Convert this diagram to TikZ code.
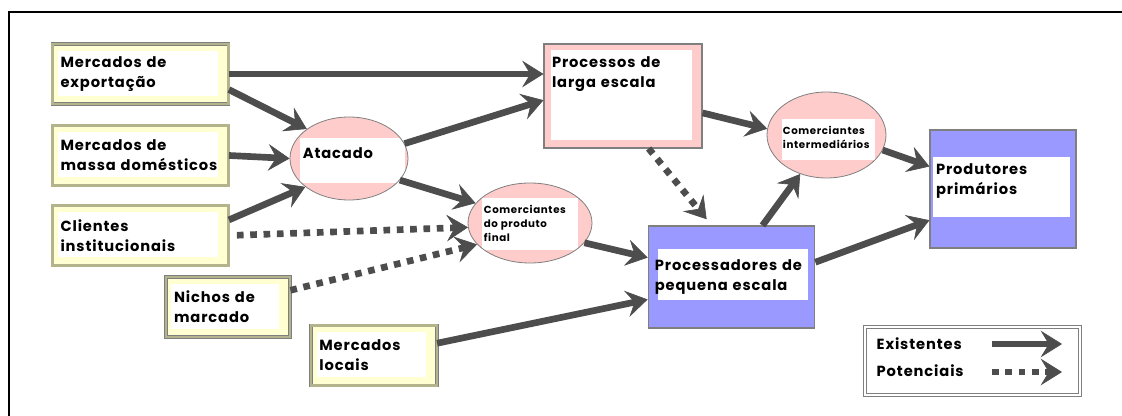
\documentclass[tikz,border=0pt]{standalone}
\usepackage{fontspec}
\setmainfont{Poppins}[LetterSpace=6]
\usetikzlibrary{arrows.meta,shapes.geometric}
\definecolor{flowgray}{HTML}{4D4D4D}
\definecolor{mktyellow}{HTML}{FFFFD2}
\definecolor{mktedge}{HTML}{B4B48C}
\definecolor{pinkfill}{HTML}{FFCCCC}
\definecolor{bluefill}{HTML}{9999FF}
\definecolor{edgegray}{HTML}{7F7F7F}

\tikzset{
  whitearea/.style n args={4}{path picture={\fill[white] ([xshift=#1,yshift=#4]path picture bounding box.south west) rectangle ([xshift=-#2,yshift=-#3]path picture bounding box.north east);}},
  lbl/.style={font=\fontsize{11}{15}\selectfont\bfseries, align=left},
  smalllbl/.style={font=\fontsize{7.7}{10.5}\selectfont\bfseries, align=left, inner sep=0pt},
  market/.style={rectangle, draw=edgegray, line width=0.6pt, double=mktedge, double distance=1.6pt,
    fill=mktyellow, whitearea={4pt}{8pt}{5pt}{6pt}, lbl, inner xsep=6pt, text width=#1, minimum height=45pt},
  proc/.style={rectangle, draw=edgegray, line width=0.8pt, lbl, inner xsep=6pt},
  trader/.style={ellipse, draw=edgegray, line width=0.6pt, fill=pinkfill, inner sep=0pt},
  legendbox/.style={rectangle, draw=edgegray, line width=0.6pt, double=white, double distance=1.6pt, fill=white},
  flow/.style={draw=flowgray, line width=5pt, -{Stealth[length=16pt, width=20pt, inset=6pt, line width=0.5pt]}},
  maybe/.style={flow, dash pattern=on 5pt off 5pt}
}

\begin{document}
\begin{tikzpicture}[x=0.75pt, y=-0.75pt]
  \useasboundingbox (0,0) rectangle (1122,416);

  % Frame
  \draw[line width=1.5pt] (9,416) -- (9,12) -- (1122,12);

  % Markets on the left
  \node[market=120pt] (exp) at (140.5,74) {Mercados de\\exportação};
  \node[market=120pt] (mass) at (140.5,155.5) {Mercados de\\massa domésticos};
  \node[market=120pt] (cli) at (140.5,235.5) {Clientes\\institucionais};
  \node[market=81pt] (nich) at (228,307) {Nichos de\\marcado};
  \node[market=82pt] (loc) at (374,355.5) {Mercados\\locais};

  % Traders
  \node[trader, minimum width=88.5pt, minimum height=62.25pt, whitearea={7.5pt}{2pt}{16pt}{13pt},
    label={[lbl, inner sep=0pt, anchor=west, xshift=9.75pt, yshift=4pt]west:Atacado}] (ata) at (349,158.5) {};
  \node[trader, minimum width=93pt, minimum height=60pt, whitearea={10.5pt}{10.5pt}{11pt}{10pt},
    label={[smalllbl, anchor=west, xshift=12pt]west:Comerciantes\\do produto\\final}] (cpf) at (530,223) {};
  \node[trader, minimum width=89.25pt, minimum height=64.5pt, whitearea={11pt}{8pt}{20pt}{13.5pt},
    label={[smalllbl, anchor=west, xshift=12pt, yshift=-2pt]west:Comerciantes\\intermediários}] (cint) at (826.5,135) {};

  % Processors and producers
  \node[proc, fill=pinkfill, text width=106.5pt, minimum height=78pt, whitearea={5pt}{7.5pt}{4.5pt}{6pt}]
    (lse) at (623,96) {Processos de\\larga escala\\[21pt]\mbox{}};
  \node[proc, fill=bluefill, inner xsep=5pt, text width=115pt, minimum height=76.5pt, whitearea={7.5pt}{5pt}{17pt}{21pt}]
    (sse) at (731.5,277) {Processadores de\\pequena escala};
  \node[proc, fill=bluefill, inner xsep=4.5pt, text width=100.5pt, minimum height=88.5pt, whitearea={2pt}{4.5pt}{20pt}{23pt}]
    (prod) at (1003,189) {Produtores\\primários\\\mbox{}};

  % Existing flows
  \draw[flow] (exp.east) -- (exp.east -| lse.west);
  \foreach \src/\dst in {exp.-10/ata.145, mass.east/ata.west, cli.10/ata.213, ata.15/lse.183,
      ata.-23/cpf.160, cpf.-20/sse.167, loc.11/sse.195, lse.-12/cint.174, sse.59/cint.236,
      cint.-15/prod.163, sse.10/prod.203}
    \draw[flow] (\src) -- (\dst);

  % Potential flows
  \draw[maybe, shorten <=6pt] (cli.east) -- (cpf.184);
  \draw[maybe] (nich.15) -- (cpf.202);
  \draw[maybe, shorten >=6pt] (lse.-64) -- (sse.111);

  % Legend
  \node[legendbox, minimum width=161.25pt, minimum height=51pt] (leg) at (972.5,361) {};
  \node[lbl, anchor=west] (lex) at (872,344) {Existentes};
  \node[lbl, anchor=west] (lpot) at (872,371) {Potenciais};
  \coordinate (exs) at (992,344);
  \coordinate (exe) at (1062,344);
  \coordinate (pts) at (992,372);
  \coordinate (pte) at (1062,372);
  \draw[flow] (exs) -- (exe);
  \draw[maybe] (pts) -- (pte);
\end{tikzpicture}
\end{document}
